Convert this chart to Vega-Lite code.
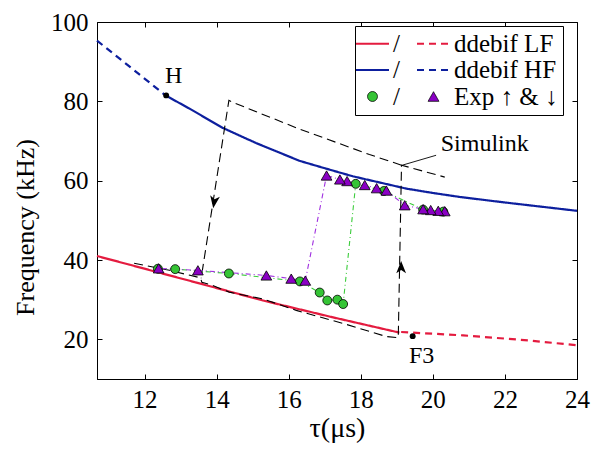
{
  "$schema": "https://vega.github.io/schema/vega-lite/v6.json",
  "width": 480,
  "height": 357,
  "autosize": {"type": "none"},
  "padding": {"left": 97, "top": 22, "right": 14, "bottom": 75},
  "background": "white",
  "config": {
    "view": {"stroke": "black", "strokeWidth": 1},
    "axis": {"labelFont": "Liberation Serif", "titleFont": "Liberation Serif"},
    "legend": {"labelFont": "Liberation Serif", "titleFont": "Liberation Serif"},
    "text": {"font": "Liberation Serif"}
  },
  "datasets": {
    "curves": [
      {"tau": 10.68, "freq": 41.0, "key": "LF solid"},
      {"tau": 11.57, "freq": 38.85, "key": "LF solid"},
      {"tau": 13.4, "freq": 34.4, "key": "LF solid"},
      {"tau": 15.28, "freq": 29.8, "key": "LF solid"},
      {"tau": 17.2, "freq": 25.6, "key": "LF solid"},
      {"tau": 19.07, "freq": 21.7, "key": "LF solid"},
      {"tau": 19.12, "freq": 21.85, "key": "LF dashed"},
      {"tau": 20.84, "freq": 21.0, "key": "LF dashed"},
      {"tau": 22.69, "freq": 19.7, "key": "LF dashed"},
      {"tau": 24.0, "freq": 18.5, "key": "LF dashed"},
      {"tau": 10.68, "freq": 95.3, "key": "HF dashed"},
      {"tau": 11.62, "freq": 88.5, "key": "HF dashed"},
      {"tau": 12.58, "freq": 81.5, "key": "HF dashed"},
      {"tau": 12.58, "freq": 81.5, "key": "HF solid"},
      {"tau": 13.24, "freq": 78.2, "key": "HF solid"},
      {"tau": 14.17, "freq": 73.3, "key": "HF solid"},
      {"tau": 15.09, "freq": 69.5, "key": "HF solid"},
      {"tau": 16.3, "freq": 65.0, "key": "HF solid"},
      {"tau": 17.05, "freq": 63.0, "key": "HF solid"},
      {"tau": 17.78, "freq": 61.1, "key": "HF solid"},
      {"tau": 19.26, "freq": 58.0, "key": "HF solid"},
      {"tau": 20.0, "freq": 56.9, "key": "HF solid"},
      {"tau": 20.74, "freq": 55.9, "key": "HF solid"},
      {"tau": 22.0, "freq": 54.5, "key": "HF solid"},
      {"tau": 24.0, "freq": 52.4, "key": "HF solid"}
    ],
    "sim": [
      {"tau": 11.71, "freq": 39.2, "seg": "A", "ord": 1},
      {"tau": 12.69, "freq": 37.4, "seg": "A", "ord": 2},
      {"tau": 13.55, "freq": 35.5, "seg": "A", "ord": 3},
      {"tau": 13.59, "freq": 34.4, "seg": "A", "ord": 4},
      {"tau": 13.88, "freq": 33.6, "seg": "A", "ord": 5},
      {"tau": 14.35, "freq": 31.9, "seg": "A", "ord": 6},
      {"tau": 15.28, "freq": 30.2, "seg": "A", "ord": 7},
      {"tau": 16.21, "freq": 27.3, "seg": "A", "ord": 8},
      {"tau": 17.51, "freq": 24.0, "seg": "A", "ord": 9},
      {"tau": 18.71, "freq": 20.7, "seg": "A", "ord": 10},
      {"tau": 19.04, "freq": 20.4, "seg": "A", "ord": 11},
      {"tau": 19.13, "freq": 63.9, "seg": "A", "ord": 12},
      {"tau": 20.33, "freq": 60.9, "seg": "A", "ord": 13},
      {"tau": 19.13, "freq": 63.9, "seg": "B", "ord": 1},
      {"tau": 18.24, "freq": 66.6, "seg": "B", "ord": 2},
      {"tau": 16.3, "freq": 73.0, "seg": "B", "ord": 3},
      {"tau": 14.49, "freq": 79.6, "seg": "B", "ord": 4},
      {"tau": 14.34, "freq": 80.25, "seg": "B", "ord": 5},
      {"tau": 13.57, "freq": 35.4, "seg": "B", "ord": 6}
    ],
    "exp": [
      {"tau": 12.37, "freq": 37.8, "dir": "up", "ord": 1},
      {"tau": 12.85, "freq": 37.7, "dir": "up", "ord": 2},
      {"tau": 14.34, "freq": 36.6, "dir": "up", "ord": 3},
      {"tau": 16.31, "freq": 34.6, "dir": "up", "ord": 4},
      {"tau": 16.86, "freq": 31.8, "dir": "up", "ord": 5},
      {"tau": 17.07, "freq": 29.8, "dir": "up", "ord": 6},
      {"tau": 17.35, "freq": 30.0, "dir": "up", "ord": 7},
      {"tau": 17.51, "freq": 28.9, "dir": "up", "ord": 8},
      {"tau": 17.86, "freq": 59.2, "dir": "up", "ord": 9},
      {"tau": 18.64, "freq": 57.4, "dir": "up", "ord": 10},
      {"tau": 19.73, "freq": 52.7, "dir": "up", "ord": 11},
      {"tau": 20.29, "freq": 52.2, "dir": "up", "ord": 12},
      {"tau": 20.33, "freq": 52.3, "dir": "down", "ord": 1},
      {"tau": 20.15, "freq": 52.4, "dir": "down", "ord": 2},
      {"tau": 19.94, "freq": 52.6, "dir": "down", "ord": 3},
      {"tau": 19.73, "freq": 52.8, "dir": "down", "ord": 4},
      {"tau": 19.22, "freq": 53.8, "dir": "down", "ord": 5},
      {"tau": 18.71, "freq": 57.5, "dir": "down", "ord": 6},
      {"tau": 18.44, "freq": 58.1, "dir": "down", "ord": 7},
      {"tau": 18.11, "freq": 58.9, "dir": "down", "ord": 8},
      {"tau": 17.62, "freq": 59.9, "dir": "down", "ord": 9},
      {"tau": 17.42, "freq": 60.3, "dir": "down", "ord": 10},
      {"tau": 17.05, "freq": 61.3, "dir": "down", "ord": 11},
      {"tau": 16.46, "freq": 34.8, "dir": "down", "ord": 12},
      {"tau": 16.07, "freq": 35.3, "dir": "down", "ord": 13},
      {"tau": 15.38, "freq": 36.1, "dir": "down", "ord": 14},
      {"tau": 13.48, "freq": 37.4, "dir": "down", "ord": 15},
      {"tau": 12.39, "freq": 37.9, "dir": "down", "ord": 16}
    ],
    "dots": [
      {"tau": 12.6, "freq": 81.5, "name": "H"},
      {"tau": 19.44, "freq": 20.8, "name": "F3"}
    ],
    "labels": [
      {"tau": 12.81, "freq": 86.3, "text": "H"},
      {"tau": 19.69, "freq": 15.7, "text": "F3"},
      {"tau": 21.44, "freq": 69.2, "text": "Simulink"}
    ],
    "leader": [
      {"tau": 19.15, "freq": 63.9},
      {"tau": 20.09, "freq": 66.4}
    ],
    "arrows": [
      {"tau": 13.93, "freq": 54.6, "dir": "down"},
      {"tau": 19.12, "freq": 38.2, "dir": "up"}
    ]
  },
  "resolve": {"axis": {"x": "independent", "y": "independent"}},
  "layer": [
    {
      "data": {"name": "curves"},
      "mark": {"type": "line", "strokeWidth": 2.2},
      "encoding": {
        "x": {"field": "tau", "type": "quantitative", "scale": {"domain": [10.68, 24], "nice": false, "zero": false},
          "axis": {"orient": "bottom", "values": [12, 14, 16, 18, 20, 22, 24], "title": "τ(μs)", "grid": false, "tickSize": -5, "tickColor": "black", "domainColor": "black", "labelFont": "Liberation Serif", "labelFontSize": 25, "labelColor": "black", "labelPadding": 13, "labelFlush": false, "labelOverlap": false, "titleFont": "Liberation Serif", "titleFontSize": 28, "titleFontWeight": "normal", "titleColor": "black", "titlePadding": 2}},
        "y": {"field": "freq", "type": "quantitative", "scale": {"domain": [10, 100], "nice": false, "zero": false},
          "axis": {"orient": "left", "values": [20, 40, 60, 80, 100], "title": "Frequency (kHz)", "grid": false, "tickSize": -5, "tickColor": "black", "domainColor": "black", "labelFont": "Liberation Serif", "labelFontSize": 25, "labelColor": "black", "labelPadding": 14, "labelFlush": false, "labelOverlap": false, "titleFont": "Liberation Serif", "titleFontSize": 26, "titleFontWeight": "normal", "titleColor": "black", "titlePadding": 12, "titleY": 205}},
        "stroke": {"field": "key", "type": "nominal",
          "scale": {"domain": ["LF solid", "HF solid", "Exp up", "LF dashed", "HF dashed", "Exp down"], "range": ["#e41b3f", "#0d1f9e", "black", "#e41b3f", "#0d1f9e", "black"]},
          "legend": {
            "title": null, "orient": "none", "legendX": 258, "legendY": 4, "columns": 2,
            "symbolSize": 1089, "symbolStrokeWidth": 2.2, "symbolOffset": 0,
            "labelFont": "Liberation Serif", "labelFontSize": 25, "labelColor": "black", "labelLimit": 0, "labelOffset": 8,
            "columnPadding": 12, "rowPadding": 0.5, "padding": 5,
            "strokeColor": "black", "fillColor": "white",
            "labelExpr": "datum.value == 'LF dashed' ? 'ddebif LF' : datum.value == 'HF dashed' ? 'ddebif HF' : datum.value == 'Exp down' ? 'Exp ↑ & ↓' : '/'",
            "encode": {"symbols": {"update": {
              "shape": {"signal": "datum.value == 'Exp up' ? 'M-0.3,0A0.3,0.3,0,1,0,0.3,0A0.3,0.3,0,1,0,-0.3,0Z' : datum.value == 'Exp down' ? 'M0,-0.29L-0.33,0.29L0.33,0.29Z' : 'stroke'"},
              "fill": {"signal": "datum.value == 'Exp up' ? '#35c435' : datum.value == 'Exp down' ? '#8a00c4' : 'transparent'"},
              "strokeWidth": {"signal": "datum.value == 'Exp up' || datum.value == 'Exp down' ? 0.8 : 2.2"}
            }}}
          }},
        "strokeDash": {"field": "key", "type": "nominal",
          "scale": {"domain": ["LF solid", "HF solid", "Exp up", "LF dashed", "HF dashed", "Exp down"], "range": [[1, 0], [1, 0], [1, 0], [7, 5], [7, 5], [1, 0]]}}
      }
    },
    {
      "data": {"name": "sim"},
      "mark": {"type": "line", "color": "black", "strokeWidth": 1.1, "strokeDash": [9, 5]},
      "encoding": {
        "x": {"field": "tau", "type": "quantitative", "scale": {"domain": [10.68, 24], "nice": false, "zero": false},
          "axis": {"orient": "top", "values": [12, 14, 16, 18, 20, 22, 24], "labels": false, "title": null, "domain": false, "grid": false, "tickSize": -5, "tickColor": "black"}},
        "y": {"field": "freq", "type": "quantitative", "scale": {"domain": [10, 100], "nice": false, "zero": false},
          "axis": {"orient": "right", "values": [20, 40, 60, 80, 100], "labels": false, "title": null, "domain": false, "grid": false, "tickSize": -5, "tickColor": "black"}},
        "detail": {"field": "seg", "type": "nominal"},
        "order": {"field": "ord", "type": "quantitative"}
      }
    },
    {
      "data": {"name": "leader"},
      "mark": {"type": "line", "color": "black", "strokeWidth": 0.9},
      "encoding": {
        "x": {"field": "tau", "type": "quantitative", "scale": {"domain": [10.68, 24], "nice": false, "zero": false}, "axis": null},
        "y": {"field": "freq", "type": "quantitative", "scale": {"domain": [10, 100], "nice": false, "zero": false}, "axis": null}
      }
    },
    {
      "data": {"name": "exp"},
      "transform": [{"filter": "datum.dir == 'up'"}],
      "mark": {"type": "line", "color": "#3ccc3c", "strokeWidth": 1.1, "strokeDash": [5, 3, 1, 3]},
      "encoding": {
        "x": {"field": "tau", "type": "quantitative", "scale": {"domain": [10.68, 24], "nice": false, "zero": false}, "axis": null},
        "y": {"field": "freq", "type": "quantitative", "scale": {"domain": [10, 100], "nice": false, "zero": false}, "axis": null},
        "order": {"field": "ord", "type": "quantitative"}
      }
    },
    {
      "data": {"name": "exp"},
      "transform": [{"filter": "datum.dir == 'down'"}],
      "mark": {"type": "line", "color": "#a030e0", "strokeWidth": 1.1, "strokeDash": [5, 3, 1, 3]},
      "encoding": {
        "x": {"field": "tau", "type": "quantitative", "scale": {"domain": [10.68, 24], "nice": false, "zero": false}, "axis": null},
        "y": {"field": "freq", "type": "quantitative", "scale": {"domain": [10, 100], "nice": false, "zero": false}, "axis": null},
        "order": {"field": "ord", "type": "quantitative"}
      }
    },
    {
      "data": {"name": "exp"},
      "transform": [{"filter": "datum.dir == 'up'"}],
      "mark": {"type": "point", "shape": "circle", "filled": true, "fill": "#35c435", "stroke": "black", "strokeWidth": 0.8, "size": 80, "opacity": 1},
      "encoding": {
        "x": {"field": "tau", "type": "quantitative", "scale": {"domain": [10.68, 24], "nice": false, "zero": false}, "axis": null},
        "y": {"field": "freq", "type": "quantitative", "scale": {"domain": [10, 100], "nice": false, "zero": false}, "axis": null}
      }
    },
    {
      "data": {"name": "exp"},
      "transform": [{"filter": "datum.dir == 'down'"}],
      "mark": {"type": "point", "shape": "triangle-up", "filled": true, "fill": "#8a00c4", "stroke": "black", "strokeWidth": 0.8, "size": 115, "opacity": 1},
      "encoding": {
        "x": {"field": "tau", "type": "quantitative", "scale": {"domain": [10.68, 24], "nice": false, "zero": false}, "axis": null},
        "y": {"field": "freq", "type": "quantitative", "scale": {"domain": [10, 100], "nice": false, "zero": false}, "axis": null}
      }
    },
    {
      "data": {"name": "dots"},
      "mark": {"type": "point", "shape": "circle", "filled": true, "fill": "black", "size": 35, "opacity": 1},
      "encoding": {
        "x": {"field": "tau", "type": "quantitative", "scale": {"domain": [10.68, 24], "nice": false, "zero": false}, "axis": null},
        "y": {"field": "freq", "type": "quantitative", "scale": {"domain": [10, 100], "nice": false, "zero": false}, "axis": null}
      }
    },
    {
      "data": {"name": "arrows"},
      "mark": {"type": "point", "filled": true, "fill": "black", "size": 150, "opacity": 1},
      "encoding": {
        "x": {"field": "tau", "type": "quantitative", "scale": {"domain": [10.68, 24], "nice": false, "zero": false}, "axis": null},
        "y": {"field": "freq", "type": "quantitative", "scale": {"domain": [10, 100], "nice": false, "zero": false}, "axis": null},
        "shape": {"field": "dir", "type": "nominal", "scale": {"domain": ["down", "up"], "range": ["M-0.15,0.99L-0.64,-1.11L0.07,-0.45L0.94,-0.87Z", "M0,-1L-0.8,1L0,0.45L0.8,1Z"]}, "legend": null}
      }
    },
    {
      "data": {"name": "labels"},
      "mark": {"type": "text", "font": "Liberation Serif", "fontSize": 24, "color": "black", "align": "center", "baseline": "middle"},
      "encoding": {
        "x": {"field": "tau", "type": "quantitative", "scale": {"domain": [10.68, 24], "nice": false, "zero": false}, "axis": null},
        "y": {"field": "freq", "type": "quantitative", "scale": {"domain": [10, 100], "nice": false, "zero": false}, "axis": null},
        "text": {"field": "text", "type": "nominal"}
      }
    }
  ]
}
